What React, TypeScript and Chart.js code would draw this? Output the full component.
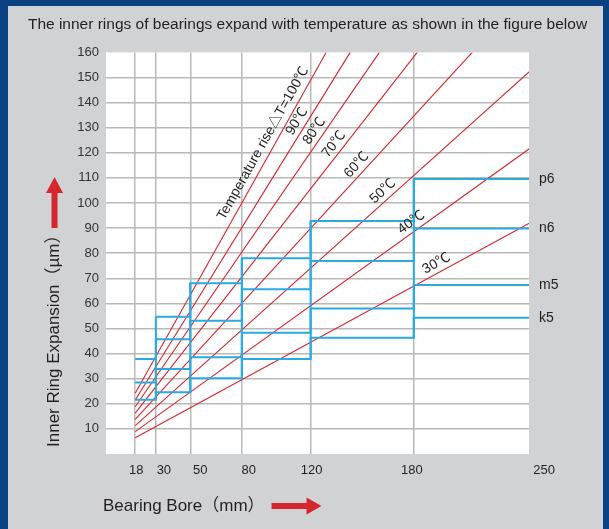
import React, { useEffect, useRef } from 'react';
import { Chart, registerables } from 'chart.js';

Chart.register(...registerables);

// ---------- data ----------
const chartTitle = 'The inner rings of bearings expand with temperature as shown in the figure below';
const xAxisTitle = 'Bearing Bore（mm）';
const yAxisTitle = 'Inner Ring Expansion（µm）';

const boreEdges = [18, 30, 50, 80, 120, 180, 250];
const xTickLabels = ['18', '30', '50', '80', '120', '180', '250'];
const yTickValues = [10, 20, 30, 40, 50, 60, 70, 80, 90, 100, 110, 120, 130, 140, 150, 160];

const fitClasses = ['p6', 'n6', 'm5', 'k5'];
const p6 = [null, 54.7, 68.0, 78.0, 92.8, 109.6];
const n6 = [37.8, 45.7, 53.1, 65.6, 76.9, 89.8];
const m5 = [28.5, 33.9, 38.5, 48.3, 58.0, 67.3];
const k5 = [21.6, 24.6, 30.2, 37.8, 46.3, 54.3];

const tempRise = [100, 90, 80, 70, 60, 50, 40, 30];
const lineStartBore = 18;
const lineStartExp = [24.2, 21.5, 18.8, 16.3, 13.8, 11.3, 8.9, 6.5];
const lineEndBore = [129, 143, 160, 182, 214, 250, 250, 250];
const lineEndExp = [160, 160, 160, 160, 160, 154, 123, 93];

// ---------- styles ----------
const FRAME = '#0a4182';
const PANEL = '#d1d2d4';
const BLUE = '#29abe2';
const RED = '#d6262d';
const GRID = '#b9b9b9';
const TEXT = '#231f20';
const FONT = "'Liberation Sans', Arial, 'Noto Sans CJK JP', sans-serif";

function drawText(ctx: CanvasRenderingContext2D, s: string, x: number, y: number, size: number, align: CanvasTextAlign = 'center', rot = 0, color = TEXT) {
  ctx.save();
  ctx.translate(x, y);
  ctx.rotate(rot);
  ctx.font = `${size}px ${FONT}`;
  ctx.fillStyle = color;
  ctx.textAlign = align;
  ctx.textBaseline = 'middle';
  ctx.fillText(s, 0, 0);
  ctx.restore();
}

function arrowRight(ctx: CanvasRenderingContext2D, x0: number, y: number, len: number) {
  const head = 15, hw = 8.5, sw = 3;
  ctx.save();
  ctx.fillStyle = RED;
  ctx.beginPath();
  ctx.moveTo(x0, y - sw);
  ctx.lineTo(x0 + len - head, y - sw);
  ctx.lineTo(x0 + len - head, y - hw);
  ctx.lineTo(x0 + len, y);
  ctx.lineTo(x0 + len - head, y + hw);
  ctx.lineTo(x0 + len - head, y + sw);
  ctx.lineTo(x0, y + sw);
  ctx.closePath();
  ctx.fill();
  ctx.restore();
}

function arrowUp(ctx: CanvasRenderingContext2D, x: number, y0: number, len: number) {
  const head = 16, hw = 8.5, sw = 3;
  ctx.save();
  ctx.fillStyle = RED;
  ctx.beginPath();
  ctx.moveTo(x - sw, y0);
  ctx.lineTo(x - sw, y0 - len + head);
  ctx.lineTo(x - hw, y0 - len + head);
  ctx.lineTo(x, y0 - len);
  ctx.lineTo(x + hw, y0 - len + head);
  ctx.lineTo(x + sw, y0 - len + head);
  ctx.lineTo(x + sw, y0);
  ctx.closePath();
  ctx.fill();
  ctx.restore();
}

// label anchors along each temperature line (bore, mm) – layout only
const tempLabelAnchor = [97.7, 116.5, 126.5, 137.7, 150.6, 165.5, 181.6, 195.7];
const xLabelShift = [1, 8, 10, 7, 1, -2, 10];

const decoPlugin = {
  id: 'deco',
  beforeDraw(chart: any) {
    const { ctx, chartArea: a } = chart;
    ctx.save();
    ctx.fillStyle = '#ffffff';
    ctx.fillRect(a.left, a.top, a.right - a.left, a.bottom - a.top);
    ctx.restore();
  },
  afterDatasetsDraw(chart: any) {
    const { ctx, chartArea: a, scales } = chart;
    const xs = scales.x, ys = scales.y;
    tempRise.forEach((t, i) => {
      const x1 = xs.getPixelForValue(lineStartBore), y1 = ys.getPixelForValue(lineStartExp[i]);
      const x2 = xs.getPixelForValue(lineEndBore[i]), y2 = ys.getPixelForValue(lineEndExp[i]);
      const th = Math.atan2(y2 - y1, x2 - x1);
      const f = (tempLabelAnchor[i] - lineStartBore) / (lineEndBore[i] - lineStartBore);
      const v = lineStartExp[i] + f * (lineEndExp[i] - lineStartExp[i]);
      const px = xs.getPixelForValue(tempLabelAnchor[i]);
      const py = ys.getPixelForValue(v);
      const d = i === 0 ? 10.5 : 9;
      const cx = px + Math.sin(th) * d;
      const cy = py - Math.cos(th) * d;
      const s = i === 0 ? `Temperature rise△T=${t}℃` : `${t}℃`;
      drawText(ctx, s, cx, cy, 14, 'center', th);
    });
    [p6, n6, m5, k5].forEach((arr, k) => {
      drawText(ctx, fitClasses[k], a.right + 10, ys.getPixelForValue(arr[arr.length - 1] as number), 14, 'left');
    });
  },
  afterDraw(chart: any) {
    const { ctx, chartArea: a, scales, width } = chart;
    const xs = scales.x;
    drawText(ctx, chartTitle, width / 2 + 2, 19, 15.5);
    boreEdges.forEach((b, i) => {
      drawText(ctx, xTickLabels[i], xs.getPixelForValue(b) + xLabelShift[i], a.bottom + 16, 13);
    });
    ctx.save();
    ctx.font = `17px ${FONT}`;
    const w = ctx.measureText(xAxisTitle).width;
    ctx.restore();
    drawText(ctx, xAxisTitle, 95, 500, 17, 'left');
    arrowRight(ctx, 95 + w + 7, 500, 50);
    drawText(ctx, yAxisTitle, 46.5, 441, 17, 'left', -Math.PI / 2);
    arrowUp(ctx, 46.5, 222, 51);
  },
};

export default function App() {
  const ref = useRef<HTMLCanvasElement | null>(null);
  useEffect(() => {
    if (!ref.current) return;
    const stepSets = [p6, n6, m5, k5].map((arr, k) => ({
      label: fitClasses[k],
      data: [
        ...boreEdges.slice(0, arr.length).map((b, i) => ({ x: b, y: arr[i] })),
        { x: boreEdges[arr.length], y: arr[arr.length - 1] },
      ],
      stepped: 'before' as const,
      borderColor: BLUE,
      borderWidth: 2,
      pointRadius: 0,
      spanGaps: false,
      fill: false,
      order: 0,
    }));
    const vert: any[] = [];
    for (let i = 1; i < boreEdges.length - 1; i++) {
      const vals = [p6, n6, m5, k5].flatMap((a) => [a[i - 1], a[i]]).filter((v) => v != null) as number[];
      vert.push({ x: boreEdges[i], y: Math.min(...vals) }, { x: boreEdges[i], y: Math.max(...vals) }, { x: boreEdges[i], y: null });
    }
    const vertSet = {
      label: 'bounds',
      data: vert,
      borderColor: BLUE,
      borderWidth: 2,
      pointRadius: 0,
      spanGaps: false,
      fill: false,
      order: 0,
    };
    const redSets = tempRise.map((t, i) => ({
      label: `${t}`,
      data: [
        { x: lineStartBore, y: lineStartExp[i] },
        { x: lineEndBore[i], y: lineEndExp[i] },
      ],
      borderColor: RED,
      borderWidth: 1.1,
      pointRadius: 0,
      fill: false,
      order: 1,
    }));
    const chart = new Chart(ref.current, {
      type: 'line',
      data: { datasets: [...stepSets, vertSet, ...redSets] as any },
      options: {
        responsive: false,
        maintainAspectRatio: false,
        animation: false,
        layout: { padding: { top: 46.4, right: 74, bottom: 0, left: 0 } },
        plugins: { legend: { display: false }, tooltip: { enabled: false }, title: { display: false } },
        scales: {
          x: {
            type: 'linear',
            min: 1,
            max: 247,
            afterBuildTicks: (s: any) => {
              s.ticks = boreEdges.slice(0, 6).map((v) => ({ value: v }));
            },
            afterFit: (s: any) => {
              s.height = 75;
            },
            ticks: { display: false },
            grid: { color: GRID, lineWidth: 1.5, drawTicks: false },
            border: { display: false },
          },
          y: {
            type: 'linear',
            min: 0,
            max: 160,
            afterBuildTicks: (s: any) => {
              s.ticks = yTickValues.map((v) => ({ value: v }));
            },
            afterFit: (s: any) => {
              s.width = 98;
            },
            ticks: { padding: 7, color: '#333', font: { size: 13, family: FONT } },
            grid: {
              color: (c: any) => (c.tick && c.tick.value >= 160 ? 'rgba(0,0,0,0)' : GRID),
              lineWidth: 1.5,
              drawTicks: false,
            },
            border: { display: false },
          },
        },
      },
      plugins: [decoPlugin],
    });
    return () => chart.destroy();
  }, []);
  return (
    <div style={{ position: 'fixed', left: 0, top: 0, width: 609, height: 529, background: FRAME }}>
      <div style={{ position: 'absolute', left: 8, top: 6, width: 595, height: 523, background: PANEL }}>
        <canvas ref={ref} width={595} height={523} style={{ display: 'block' }} />
      </div>
    </div>
  );
}
